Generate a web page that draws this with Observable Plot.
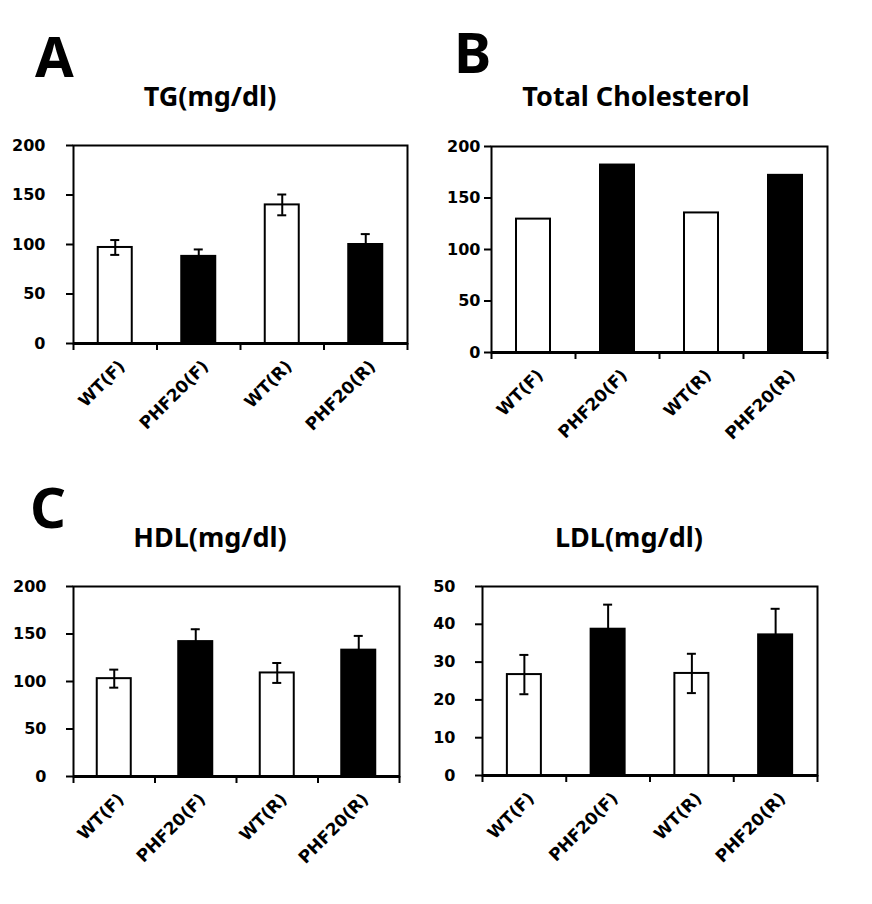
<!DOCTYPE html>
<html><head><meta charset="utf-8">
<script src="https://cdn.jsdelivr.net/npm/d3@7"></script>
<script src="https://cdn.jsdelivr.net/npm/@observablehq/plot@0.6"></script>
<style>
body{margin:0;background:#fff;}
#root{position:relative;width:872px;height:904px;overflow:hidden;background:#fff;}
.txt{position:absolute;font-family:"Noto Sans",sans-serif;font-weight:bold;line-height:1;white-space:nowrap;color:#000;}
.ttl{font-size:27px;width:400px;text-align:center;}
.let{font-size:56px;}
.panel{position:absolute;}
</style></head><body><div id="root"></div>
<script>
// ---- data ----
const groups = ["WT(F)", "PHF20(F)", "WT(R)", "PHF20(R)"];
const barFills = ["white", "black", "white", "black"];
const panelLetters = ["A", "B", "C"];
const titles = ["TG(mg/dl)", "Total Cholesterol", "HDL(mg/dl)", "LDL(mg/dl)"];

const tgValues = [97, 88, 140, 100];
const tgErrors = [7.5, 7, 10.5, 10.5];
const tcValues = [129.5, 182, 135.5, 172];
const hdlValues = [103, 142, 109, 133];
const hdlErrors = [9.5, 13, 10.5, 15];
const ldlValues = [26.7, 38.7, 27, 37.2];
const ldlErrors = [5.2, 6.5, 5.2, 6.9];

const ticks200 = [0, 50, 100, 150, 200];
const ticks50 = [0, 10, 20, 30, 40, 50];

// ---- layout ----
const root = document.getElementById("root");
function addText(cls, text, left, top) {
  const d = document.createElement("div");
  d.className = "txt " + cls;
  d.textContent = text;
  d.style.left = left + "px";
  d.style.top = top + "px";
  root.appendChild(d);
}

function panel({values, errors, yMax, yTicks, box, tickPad}) {
  const [x0, y0, x1, y1] = box;
  const ml = 75, mt = 12, mr = 12, mb = 95;
  const width = (x1 - x0) + ml + mr;
  const height = (y1 - y0) + mt + mb;
  const n = groups.length;
  const bw = (x1 - x0) / n;
  const inset = (bw - 34) / 2;
  const capHalf = 4.5 / bw;
  const data = groups.map((g, i) => ({g, i, v: values[i], e: errors ? errors[i] : 0, fill: barFills[i]}));
  const marks = [
    Plot.rect(data, {x1: d => d.i, x2: d => d.i + 1, y1: d => 0, y2: "v", fill: "fill",
      stroke: "black", strokeWidth: 2, insetLeft: inset, insetRight: inset})
  ];
  if (errors) {
    marks.push(
      Plot.ruleX(data, {x: d => d.i + 0.5, y1: d => d.v - d.e, y2: d => d.v + d.e, stroke: "black", strokeWidth: 2}),
      Plot.ruleY(data, {y: d => d.v + d.e, x1: d => d.i + 0.5 - capHalf, x2: d => d.i + 0.5 + capHalf, stroke: "black", strokeWidth: 2}),
      Plot.ruleY(data, {y: d => d.v - d.e, x1: d => d.i + 0.5 - capHalf, x2: d => d.i + 0.5 + capHalf, stroke: "black", strokeWidth: 2})
    );
  }
  marks.push(
    Plot.frame({stroke: "black", strokeWidth: 2}),
    Plot.ruleY([0], {stroke: "black", strokeWidth: 3}),
    Plot.axisY({ticks: yTicks, tickSize: 7, tickPadding: tickPad, strokeWidth: 2, label: null,
      fontSize: 16, fontWeight: "bold", fill: "black"}),
    Plot.axisX({ticks: d3.range(n + 1), tickSize: 7, strokeWidth: 2, label: null, tickFormat: () => ""}),
    Plot.text(data, {x: d => d.i + 0.5, y: d => 0, text: "g", rotate: -45, textAnchor: "end",
      dx: 7, dy: 20, fontSize: 17, fontWeight: "bold", fill: "black"})
  );
  const svg = Plot.plot({
    width, height, marginLeft: ml, marginRight: mr, marginTop: mt, marginBottom: mb,
    x: {domain: [0, n], axis: null},
    y: {domain: [0, yMax], axis: null},
    color: {type: "identity"},
    style: {fontFamily: "'DejaVu Sans', sans-serif", fontSize: "16px", fontWeight: "bold", color: "black", background: "transparent", overflow: "visible"},
    marks
  });
  const wrap = document.createElement("div");
  wrap.className = "panel";
  wrap.style.left = (x0 - ml) + "px";
  wrap.style.top = (y0 - mt) + "px";
  wrap.appendChild(svg);
  root.appendChild(wrap);
}

panel({values: tgValues, errors: tgErrors, yMax: 200, yTicks: ticks200, box: [73, 145, 407, 343], tickPad: 21});
panel({values: tcValues, errors: null, yMax: 200, yTicks: ticks200, box: [491, 146, 827, 352], tickPad: 4});
panel({values: hdlValues, errors: hdlErrors, yMax: 200, yTicks: ticks200, box: [73, 586, 399, 776], tickPad: 20});
panel({values: ldlValues, errors: ldlErrors, yMax: 50, yTicks: ticks50, box: [482, 586, 817, 775], tickPad: 20});

addText("let", panelLetters[0], 35, 27);
addText("let", panelLetters[1], 454, 23);
addText("let", panelLetters[2], 30, 478);
addText("ttl", titles[0], 210 - 200, 82);
addText("ttl", titles[1], 636 - 200, 82);
addText("ttl", titles[2], 210 - 200, 523);
addText("ttl", titles[3], 629 - 200, 523);
</script></body></html>
